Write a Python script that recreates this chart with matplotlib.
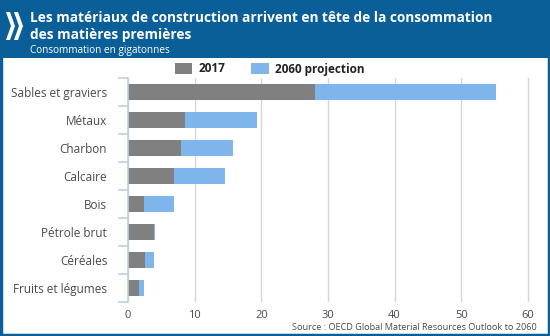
import matplotlib
matplotlib.use("Agg")
import matplotlib.pyplot as plt
from matplotlib.patches import Rectangle, Polygon

# data (gigatonnes)
CATEGORIES = ["Sables et graviers", "Métaux", "Charbon", "Calcaire", "Bois",
              "Pétrole brut", "Céréales", "Fruits et légumes"]
VALUES_2017 = [28.0, 8.6, 8.0, 6.9, 2.4, 3.9, 2.6, 1.6]
VALUES_2060 = [55.2, 19.3, 15.8, 14.6, 6.9, 4.05, 3.9, 2.35]
XTICKS = [0, 10, 20, 30, 40, 50, 60]

HEADER = "#0b5f98"
GREY = "#808080"
BLUE = "#7eb5ea"
TXT = "#4a4a4a"

plt.rcParams["font.family"] = ["Open Sans", "DejaVu Sans"]

W, H = 550, 336
fig = plt.figure(figsize=(W / 100, H / 100), dpi=100)
fig.patch.set_facecolor("white")

def fx(px):
    return px / W

def fy(py):
    return 1 - py / H

# header band + border
fig.add_artist(Rectangle((0, fy(58)), 1, 58 / H, transform=fig.transFigure,
                         facecolor=HEADER, edgecolor="none"))
fig.add_artist(Rectangle((0.002, 0.003), 0.996, 0.994, transform=fig.transFigure,
                         facecolor="none", edgecolor=HEADER, lw=2.5))

# chevron logo
for x0 in (6, 14):
    pts = [(x0, 12), (x0 + 4, 12), (x0 + 9, 26), (x0 + 4, 40), (x0, 40), (x0 + 5, 26)]
    fig.add_artist(Polygon([(fx(a), fy(b)) for a, b in pts], closed=True,
                           transform=fig.transFigure, facecolor="white", edgecolor="none"))

fig.text(fx(30), fy(18), "Les matériaux de construction arrivent en tête de la consommation",
         color="white", fontsize=9.8, fontweight="bold", va="center", ha="left")
fig.text(fx(30), fy(35), "des matières premières",
         color="white", fontsize=9.8, fontweight="bold", va="center", ha="left")
fig.text(fx(30), fy(50), "Consommation en gigatonnes",
         color="white", fontsize=7.2, va="center", ha="left")

# plot area
ax = fig.add_axes([fx(128), fy(302), fx(540 - 128), (302 - 78) / H])
y = list(range(len(CATEGORIES)))
ax.barh(y, VALUES_2060, height=0.57, color=BLUE, zorder=2, label="2060 projection")
ax.barh(y, VALUES_2017, height=0.57, color=GREY, zorder=3, label="2017")

ax.set_xlim(0, 61.8)
ax.set_ylim(len(CATEGORIES) - 0.5, -0.5)
ax.set_xticks(XTICKS)
ax.set_xticklabels([str(t) for t in XTICKS], color=TXT, fontsize=8)
ax.set_yticks(y)
ax.set_yticklabels(CATEGORIES, color=TXT, fontsize=8.5)
ax.tick_params(axis="y", length=0, pad=15)
ax.tick_params(axis="x", length=0, pad=6)
# boundary ticks on the category axis
ax.set_yticks([i - 0.5 for i in range(len(CATEGORIES) + 1)], minor=True)
ax.tick_params(axis="y", which="minor", length=7, color="#c0cfe0", width=1.2)

ax.grid(axis="x", color="#d6d6d6", lw=1, zorder=0)
for s in ("top", "right", "bottom"):
    ax.spines[s].set_visible(False)
ax.spines["left"].set_color("#c0cfe0")
ax.spines["left"].set_linewidth(1.2)
ax.spines["left"].set_zorder(4)

handles, labels = ax.get_legend_handles_labels()
leg = fig.legend(handles[::-1], labels[::-1], loc="center left",
                 bbox_to_anchor=(fx(164), fy(69)), ncol=2, frameon=False,
                 handlelength=1.5, handleheight=1.1, columnspacing=2.2,
                 handletextpad=0.5, prop={"weight": "bold", "size": 8.5})
for t in leg.get_texts():
    t.set_color("#222222")

fig.text(fx(537), fy(328), "Source : OECD Global Material Resources Outlook to 2060",
         color=TXT, fontsize=6.6, ha="right", va="center")

fig.savefig("out.png", dpi=100, facecolor=fig.get_facecolor())
